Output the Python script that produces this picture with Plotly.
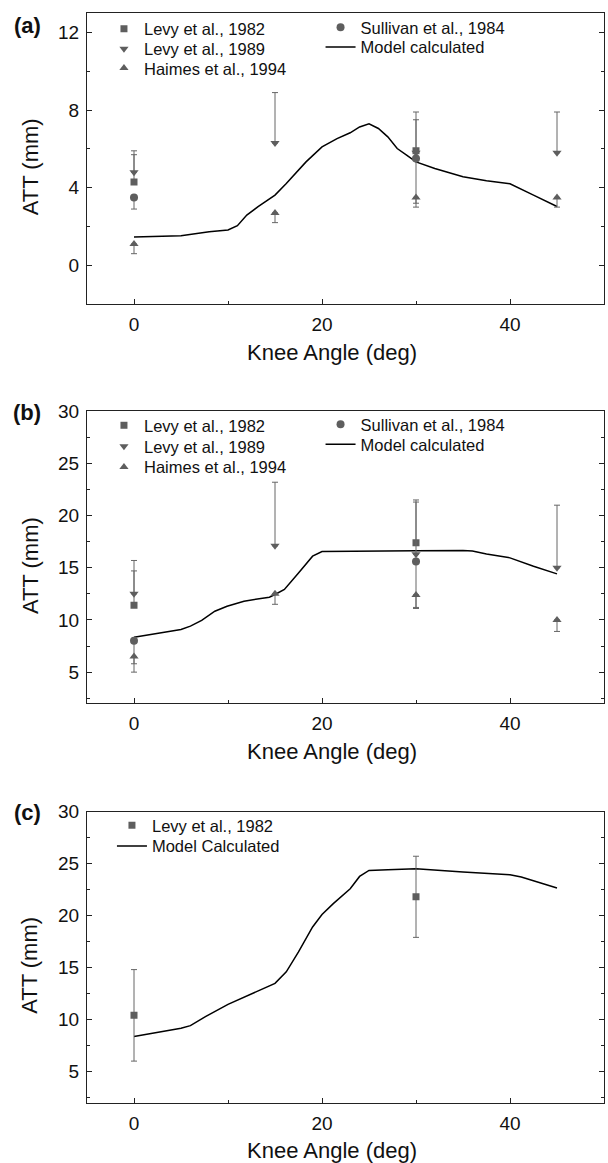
import plotly.graph_objects as go

# ---------------- DATA ----------------
# Panel (a)
a_levy82_x = [0, 30]
a_levy82_y = [4.3, 5.9]
a_levy82_up = [1.4, 1.6]
a_levy82_dn = [0, 0]

a_levy89_x = [0, 15, 30, 45]
a_levy89_y = [4.8, 6.3, 5.8, 5.8]
a_levy89_up = [1.1, 2.6, 2.1, 2.1]
a_levy89_dn = [0, 0, 0, 0]

a_haimes_x = [0, 15, 30, 45]
a_haimes_y = [1.1, 2.7, 3.5, 3.5]
a_haimes_up = [0, 0, 0, 0]
a_haimes_dn = [0.5, 0.5, 0.3, 0.5]

a_sullivan_x = [0, 30]
a_sullivan_y = [3.5, 5.5]
a_sullivan_up = [0, 0]
a_sullivan_dn = [0.6, 2.5]

a_model_x = [0, 5, 8, 10, 11, 12, 13.2, 15, 16.2, 18.3, 20, 21.6, 23, 24, 25, 26, 27, 28, 29, 30, 32, 35, 37.5, 40, 42.5, 45]
a_model_y = [1.46, 1.53, 1.73, 1.82, 2.04, 2.59, 3.02, 3.62, 4.22, 5.33, 6.1, 6.53, 6.83, 7.13, 7.29, 7.05, 6.62, 6.02, 5.68, 5.33, 4.99, 4.56, 4.36, 4.2, 3.62, 3.03]

# Panel (b)
b_levy82_x = [0, 30]
b_levy82_y = [11.4, 17.4]
b_levy82_up = [3.3, 4.1]
b_levy82_dn = [0, 0]

b_levy89_x = [0, 15, 30, 45]
b_levy89_y = [12.5, 17.1, 16.3, 15.0]
b_levy89_up = [3.2, 6.1, 5.0, 6.0]
b_levy89_dn = [0, 0, 0, 0]

b_haimes_x = [0, 15, 30, 45]
b_haimes_y = [6.5, 12.5, 12.4, 10.0]
b_haimes_up = [0, 0, 0, 0]
b_haimes_dn = [1.5, 1.0, 1.2, 1.1]

b_sullivan_x = [0, 30]
b_sullivan_y = [8.0, 15.6]
b_sullivan_up = [0, 0]
b_sullivan_dn = [2.2, 4.5]

b_model_x = [0, 5, 6, 7.2, 8.6, 9.9, 11.7, 14.4, 15, 16, 17.5, 19, 20, 23, 30, 35, 36, 37.5, 40, 42.5, 45]
b_model_y = [8.35, 9.09, 9.41, 9.95, 10.84, 11.32, 11.8, 12.18, 12.44, 12.92, 14.51, 16.11, 16.56, 16.6, 16.63, 16.65, 16.6, 16.33, 15.95, 15.15, 14.42]

# Panel (c)
c_levy82_x = [0, 30]
c_levy82_y = [10.4, 21.8]
c_levy82_up = [4.4, 3.9]
c_levy82_dn = [4.4, 3.9]

c_model_x = [0, 5, 6, 7.6, 10, 12.5, 15, 16.2, 17.5, 19, 20, 21.2, 22, 23, 24, 25, 27, 30, 35, 40, 41.2, 45]
c_model_y = [8.36, 9.16, 9.41, 10.27, 11.46, 12.5, 13.48, 14.59, 16.5, 18.9, 20.09, 21.14, 21.78, 22.58, 23.76, 24.34, 24.4, 24.5, 24.18, 23.92, 23.7, 22.64]

x_ticks = [0, 20, 40]
ya_ticks = [0, 4, 8, 12]
ybc_ticks = [5, 10, 15, 20, 25, 30]

# ---------------- STYLE / LAYOUT ----------------
W, H = 608, 1163
ML, MR, MT, MB = 87, 3, 11, 60
PW = W - ML - MR
PH = H - MT - MB
FONT = "Liberation Sans, Arial, Helvetica, sans-serif"
GRAY = "#5e5e5e"
EGRAY = "#666666"


def px_x(px):
    return (px - ML) / PW


def px_y(py):
    return (H - MB - py) / PH


fig = go.Figure()


def add_pts(x, y, up, dn, symbol, size, name, xa, ya, leg):
    fig.add_trace(go.Scatter(
        x=x, y=y, mode="markers", name=name,
        marker=dict(symbol=symbol, size=size, color=GRAY, line=dict(width=0)),
        error_y=dict(type="data", symmetric=False, array=up, arrayminus=dn,
                     color=EGRAY, thickness=1, width=3),
        xaxis=xa, yaxis=ya, legend=leg,
    ))


def add_line(x, y, name, xa, ya, leg):
    fig.add_trace(go.Scatter(
        x=x, y=y, mode="lines", name=name,
        line=dict(color="black", width=1.5),
        xaxis=xa, yaxis=ya, legend=leg,
    ))


# panel a
add_line(a_model_x, a_model_y, "Model calculated", "x", "y", "legend5")
add_pts(a_levy82_x, a_levy82_y, a_levy82_up, a_levy82_dn, "square", 7, "Levy et al., 1982", "x", "y", "legend")
add_pts(a_sullivan_x, a_sullivan_y, a_sullivan_up, a_sullivan_dn, "circle", 8, "Sullivan et al., 1984", "x", "y", "legend4")
add_pts(a_haimes_x, a_haimes_y, a_haimes_up, a_haimes_dn, "triangle-up", 8, "Haimes et al., 1994", "x", "y", "legend3")
add_pts(a_levy89_x, a_levy89_y, a_levy89_up, a_levy89_dn, "triangle-down", 8, "Levy et al., 1989", "x", "y", "legend2")

# panel b
add_line(b_model_x, b_model_y, "Model calculated", "x2", "y2", "legend10")
add_pts(b_levy82_x, b_levy82_y, b_levy82_up, b_levy82_dn, "square", 7, "Levy et al., 1982", "x2", "y2", "legend6")
add_pts(b_sullivan_x, b_sullivan_y, b_sullivan_up, b_sullivan_dn, "circle", 8, "Sullivan et al., 1984", "x2", "y2", "legend9")
add_pts(b_haimes_x, b_haimes_y, b_haimes_up, b_haimes_dn, "triangle-up", 8, "Haimes et al., 1994", "x2", "y2", "legend8")
add_pts(b_levy89_x, b_levy89_y, b_levy89_up, b_levy89_dn, "triangle-down", 8, "Levy et al., 1989", "x2", "y2", "legend7")

# panel c
add_line(c_model_x, c_model_y, "Model Calculated", "x3", "y3", "legend12")
add_pts(c_levy82_x, c_levy82_y, c_levy82_up, c_levy82_dn, "square", 7, "Levy et al., 1982", "x3", "y3", "legend11")

# legend placement (pixel -> paper)
leg_pos = {
    "legend": (104, 27), "legend2": (104, 47), "legend3": (104, 66.5),
    "legend4": (321, 25.5), "legend5": (321, 45.3),
    "legend6": (104, 424.3), "legend7": (104, 445.3), "legend8": (104, 466),
    "legend9": (321, 423.3), "legend10": (321, 443.3),
    "legend11": (112, 825), "legend12": (112, 845.7),
}
legends = {}
for k, (lx, ly) in leg_pos.items():
    legends[k] = dict(
        x=px_x(lx), y=px_y(ly), xanchor="left", yanchor="middle",
        xref="paper", yref="paper",
        bgcolor="rgba(0,0,0,0)", borderwidth=0,
        font=dict(family=FONT, size=16.5, color="#111"),
    )

# domains
dom_a = [px_y(302.7), px_y(11)]
dom_b = [px_y(702.7), px_y(410)]
dom_c = [px_y(1102.7), px_y(811)]

common_x = dict(
    range=[-5, 50], tickvals=x_ticks, ticks="inside", ticklen=5, tickwidth=1,
    tickcolor="#222", showline=True, linecolor="#222", linewidth=1, mirror=True,
    showgrid=False, zeroline=False, ticklabelstandoff=3,
    tickfont=dict(family=FONT, size=19, color="#111"),
    minor=dict(dtick=10, tick0=0, ticks="inside", ticklen=3, tickcolor="#222", showgrid=False),
)


def yax(rng, ticks, minor_dt, dom):
    return dict(
        range=rng, tickvals=ticks, ticks="inside", ticklen=5, tickwidth=1,
        tickcolor="#222", showline=True, linecolor="#222", linewidth=1,
        mirror="ticks", showgrid=False, zeroline=False, domain=dom,
        ticklabelstandoff=3,
        tickfont=dict(family=FONT, size=19, color="#111"),
        minor=dict(dtick=minor_dt, tick0=0, ticks="inside", ticklen=3, tickcolor="#222", showgrid=False),
    )


annotations = []
for ya, lab, dy in [("y", "(a)", -12), ("y2", "(b)", -1), ("y3", "(c)", -1)]:
    annotations.append(dict(
        text=f"<b>{lab}</b>", xref="paper", x=0, xshift=-60, xanchor="center",
        yref=f"{ya} domain", y=1, yshift=dy, yanchor="middle", showarrow=False,
        font=dict(family=FONT, size=22, color="#111"),
    ))
    annotations.append(dict(
        text="ATT (mm)", xref="paper", x=0, xshift=-57, xanchor="center",
        yref=f"{ya} domain", y=0.47, yanchor="middle", textangle=-90, showarrow=False,
        font=dict(family=FONT, size=22, color="#111"),
    ))
    annotations.append(dict(
        text="Knee Angle (deg)", xref="paper", x=px_x(332.5), xanchor="center",
        yref=f"{ya} domain", y=0, yshift=-48, yanchor="middle", showarrow=False,
        font=dict(family=FONT, size=22, color="#111"),
    ))

fig.update_layout(
    width=W, height=H,
    margin=dict(l=ML, r=MR, t=MT, b=MB),
    paper_bgcolor="white", plot_bgcolor="white",
    font=dict(family=FONT, color="#111"),
    xaxis=dict(common_x, anchor="y"),
    xaxis2=dict(common_x, anchor="y2"),
    xaxis3=dict(common_x, anchor="y3"),
    yaxis=yax([-2, 13], ya_ticks, 2, dom_a),
    yaxis2=yax([2, 30], ybc_ticks, 2.5, dom_b),
    yaxis3=yax([2, 30], ybc_ticks, 2.5, dom_c),
    annotations=annotations,
    showlegend=True,
    **legends,
)

fig.write_html("out.html")
